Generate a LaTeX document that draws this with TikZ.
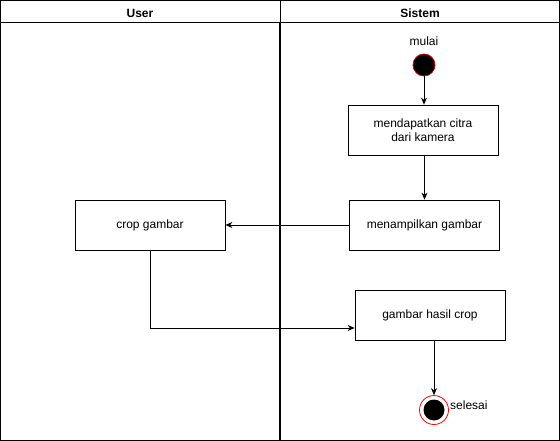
\documentclass[tikz,border=0pt]{standalone}
\usepackage{fontspec}
\setmainfont{Liberation Sans}
\usetikzlibrary{arrows.meta}
\tikzset{
  act/.style={draw,line width=0.8pt,minimum width=150pt,minimum height=50pt,align=center,inner sep=2pt},
  flow/.style={-{Stealth[length=7pt,width=6pt]},line width=0.8pt},
}
\begin{document}
\begin{tikzpicture}[x=1pt,y=-1pt,font=\fontsize{12}{14}\selectfont]
  \useasboundingbox (0,0) rectangle (560,441);
  % swimlanes
  \draw[line width=1pt] (0.5,0.5) rectangle (559.5,440);
  \draw[line width=1pt] (0.5,23) -- (559.5,23);
  \draw[line width=1pt] (280,0.5) -- (280,23);
  \draw[line width=2.2pt] (280,23) -- (280,440);
  \node[font=\fontsize{12}{14}\selectfont\bfseries] (user) at (140,13) {User};
  \node[font=\fontsize{12}{14}\selectfont\bfseries] (sistem) at (420,13) {Sistem};
  % states
  \node[circle,fill=black,draw=red!80!black,line width=0.8pt,minimum size=22pt,inner sep=0pt] (mulai) at (424,65) {};
  \node[above=4pt] (mulailbl) at (mulai.north) {mulai};
  \node[circle,draw=red,fill=white,line width=0.8pt,minimum size=29pt,inner sep=0pt] (selesai) at (434,410) {};
  \node[circle,fill=black,minimum size=21pt,inner sep=0pt] (selesaiin) at (selesai) {};
  \node[right,inner sep=0pt] (selesailbl) at (450,405) {selesai};
  % activities
  \node[act] (citra) at (423,130) {mendapatkan citra\\dari kamera};
  \node[act] (tampil) at (424.5,225) {menampilkan gambar};
  \node[act] (crop) at (150,225) {crop gambar};
  \node[act] (hasil) at (430,315) {gambar hasil crop};
  % flows
  \draw[flow] (mulai) -- (citra.north -| mulai);
  \draw[flow] (citra.south -| mulai) -- ++(0,23) -| (tampil.north);
  \draw[flow] (tampil) -- (crop);
  \draw[flow] (crop.south) |- (hasil.west |- 0,328);
  \draw[flow] (hasil.south -| selesai) -- (selesai);
\end{tikzpicture}
\end{document}
